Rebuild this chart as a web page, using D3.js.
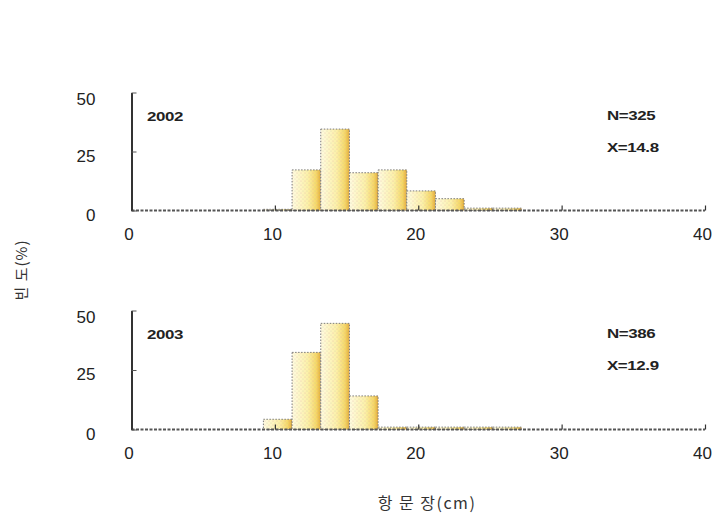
<!DOCTYPE html>
<html>
<head>
<meta charset="utf-8">
<script src="https://cdn.jsdelivr.net/npm/d3@7"></script>
<style>
  html, body { margin: 0; padding: 0; background: #fff; }
  svg { display: block; }
</style>
</head>
<body>
<svg id="chart" width="714" height="519"></svg>
<script>
// ---- data ----
const binEdges = [9.2, 11.2, 13.2, 15.2, 17.2, 19.2, 21.2, 23.2, 25.2, 27.2]; // bin edges (cm)
const years = ["2002", "2003"];
const values2002 = [0.5, 17.2, 34.5, 16.0, 17.2, 8.3, 5.0, 1.0, 1.0];   // %
const values2003 = [4.3, 32.4, 44.6, 14.1, 1.0, 1.0, 1.0, 1.0, 1.0];    // %
const nLabels = ["N=325", "N=386"];
const meanLabels = ["X=14.8", "X=12.9"];
const xTicks = [0, 10, 20, 30, 40];
const yTicks = [0, 25, 50];
const xTitle = "항 문 장(cm)";
const yTitle = "빈 도(%)";

const svg = d3.select("#chart");
const defs = svg.append("defs");

const grad = defs.append("linearGradient").attr("id", "barGrad")
  .attr("x1", "0%").attr("x2", "100%").attr("y1", "0%").attr("y2", "0%");
grad.append("stop").attr("offset", "0%").attr("stop-color", "#fffbe0");
grad.append("stop").attr("offset", "55%").attr("stop-color", "#fcf0a8");
grad.append("stop").attr("offset", "85%").attr("stop-color", "#f5d766");
grad.append("stop").attr("offset", "100%").attr("stop-color", "#e4ab38");

const pat = defs.append("pattern").attr("id", "dots")
  .attr("width", 4).attr("height", 4).attr("patternUnits", "userSpaceOnUse");
pat.append("circle").attr("cx", 1).attr("cy", 1).attr("r", 0.6).attr("fill", "#d9a0a0").attr("opacity", 0.55);
pat.append("circle").attr("cx", 3).attr("cy", 3).attr("r", 0.6).attr("fill", "#b8b8a0").attr("opacity", 0.5);

const x = d3.scaleLinear().domain([0, 40]).range([131.5, 705]);

const panels = [
  { year: years[0], values: values2002, n: nLabels[0], m: meanLabels[0], y0: 210.5, y50: 92.5 },
  { year: years[1], values: values2003, n: nLabels[1], m: meanLabels[1], y0: 429.5, y50: 310.5 }
];

panels.forEach(p => {
  const y = d3.scaleLinear().domain([0, 50]).range([p.y0, p.y50]);
  const g = svg.append("g");

  const bins = p.values.map((v, i) => ({ x0: binEdges[i], x1: binEdges[i + 1], v }));

  // bars
  const bars = g.selectAll("g.bar").data(bins).join("g").attr("class", "bar");
  bars.append("rect")
    .attr("x", d => x(d.x0)).attr("width", d => x(d.x1) - x(d.x0))
    .attr("y", d => y(d.v)).attr("height", d => y(0) - y(d.v))
    .attr("fill", "url(#barGrad)");
  bars.append("rect")
    .attr("x", d => x(d.x0)).attr("width", d => x(d.x1) - x(d.x0))
    .attr("y", d => y(d.v)).attr("height", d => y(0) - y(d.v))
    .attr("fill", "url(#dots)")
    .attr("stroke", "#7a7a7a").attr("stroke-width", 1)
    .attr("stroke-dasharray", "1.5,1.5");

  // x axis: dashed baseline with inward ticks
  g.append("line")
    .attr("x1", x(0)).attr("x2", x(40)).attr("y1", y(0)).attr("y2", y(0))
    .attr("stroke", "#555").attr("stroke-width", 2).attr("stroke-dasharray", "3,1.5");
  const xAxis = d3.axisBottom(x).tickValues(xTicks).tickSize(-5).tickPadding(17).tickFormat(d3.format("d"));
  const xg = g.append("g").attr("transform", `translate(0,${y(0)})`).call(xAxis);
  xg.select(".domain").remove();
  xg.selectAll(".tick line").attr("stroke", "#333").attr("stroke-width", 1.2);
  xg.selectAll(".tick text")
    .attr("dx", -3)
    .style("font-family", "'Liberation Sans', Arial, sans-serif")
    .style("font-size", "17px").attr("fill", "#222");

  // y axis: solid line with inward ticks
  const yAxis = d3.axisLeft(y).tickValues(yTicks).tickSize(-5).tickPadding(36).tickSizeOuter(0).tickFormat(d3.format("d"));
  const yg = g.append("g").attr("transform", `translate(${x(0)},0)`).call(yAxis);
  yg.select(".domain").attr("stroke", "#333").attr("stroke-width", 2);
  yg.selectAll(".tick line").attr("stroke", "#555").attr("stroke-width", 1);
  yg.selectAll(".tick text")
    .attr("dy", d => d === 50 ? "0.72em" : "0.58em")
    .attr("text-anchor", "end")
    .attr("x", -36)
    .style("font-family", "'Liberation Sans', Arial, sans-serif")
    .style("font-size", "17px").attr("fill", "#222");

  // annotations
  const small = (txt, tx, ty) => g.append("text")
    .attr("transform", `translate(${tx},${ty}) scale(1.3,1)`)
    .style("font-family", "'Liberation Sans', Arial, sans-serif")
    .style("font-size", "13px").style("font-weight", "bold")
    .attr("fill", "#222").attr("letter-spacing", "-0.3")
    .text(txt);
  small(p.year, 147, y(50) + 28);
  small(p.n, 607, y(50) + 27);
  small(p.m, 607, y(50) + 59);
});

// axis titles
svg.append("text")
  .attr("x", 427).attr("y", 509)
  .attr("text-anchor", "middle")
  .style("font-family", "'Noto Sans CJK KR', sans-serif")
  .style("font-size", "16px").attr("fill", "#333")
  .attr("letter-spacing", "1.5")
  .text(xTitle);

svg.append("text")
  .attr("transform", "translate(27,270) rotate(-90)")
  .attr("text-anchor", "middle")
  .style("font-family", "'Noto Sans CJK KR', sans-serif")
  .style("font-size", "15px").attr("fill", "#333")
  .attr("letter-spacing", "1")
  .text(yTitle);
</script>
</body>
</html>
